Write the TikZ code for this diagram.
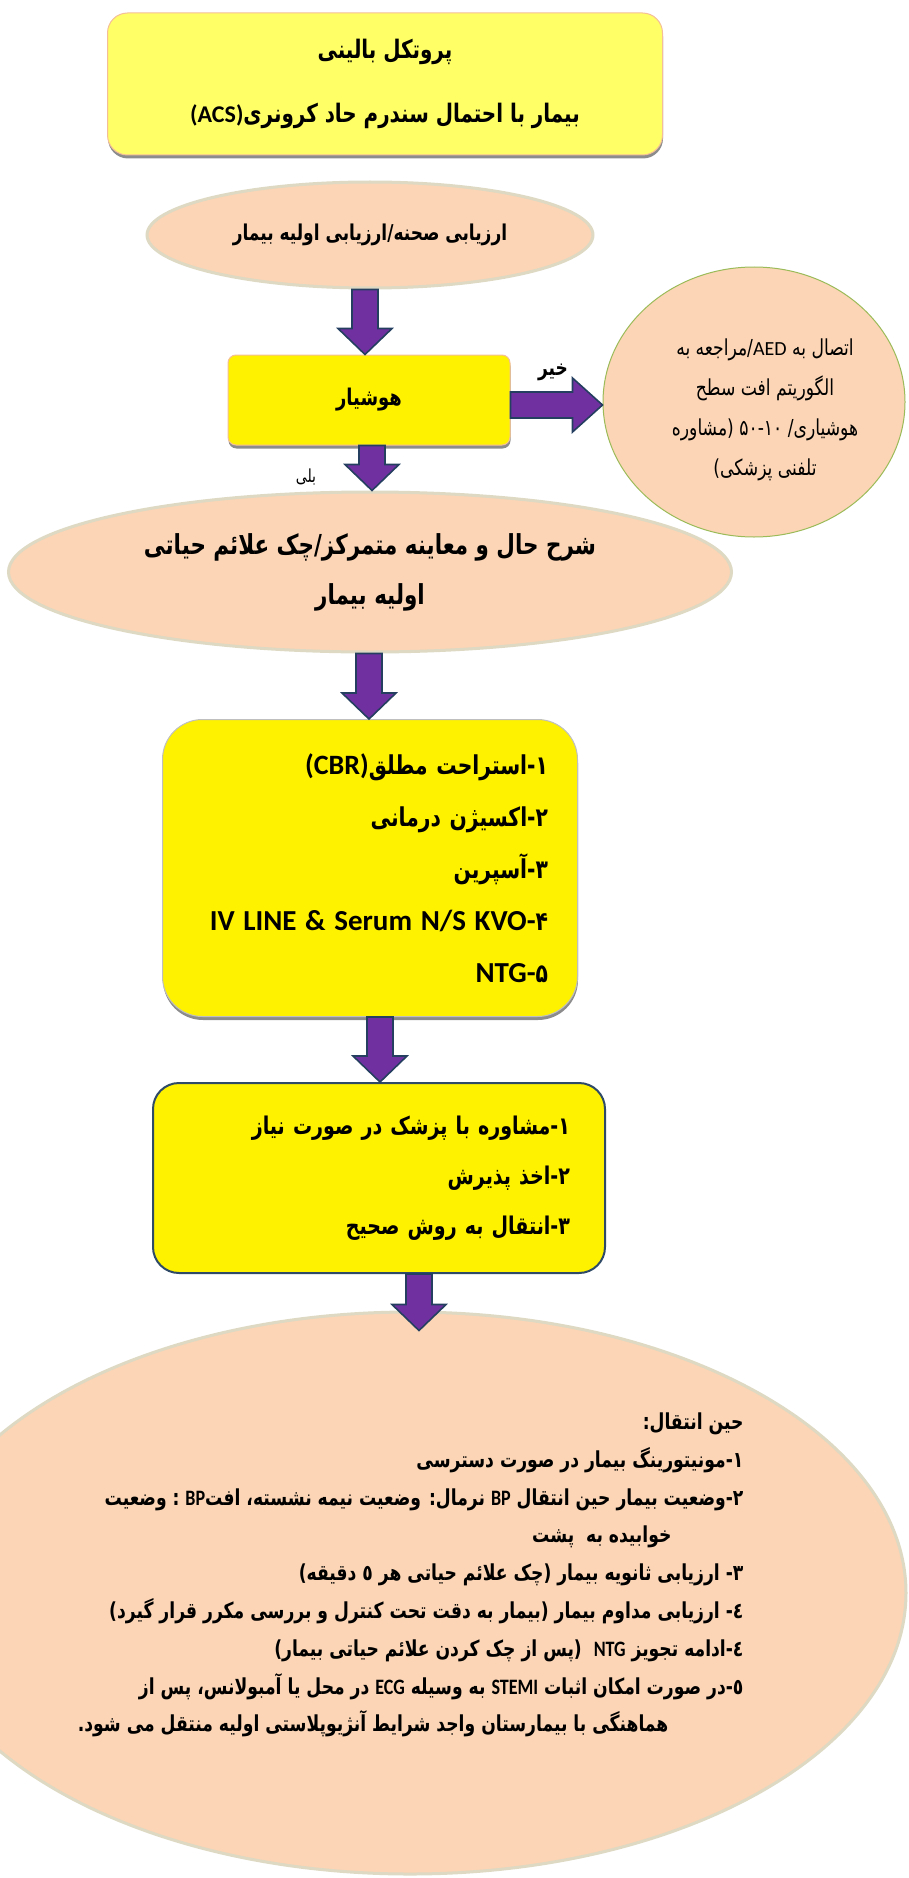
\documentclass[tikz,border=0pt]{standalone}
\usepackage{fontspec}
\usetikzlibrary{shadows,calc,shapes.geometric}
\TeXXeTstate=1
\newfontfamily\ar[Script=Arabic,FakeStretch=0.78]{DejaVu Sans}
\newfontfamily\lat{Carlito}
\newfontfamily\latn[FakeStretch=0.82]{Carlito}
\definecolor{peach}{HTML}{FBD5B5}
\definecolor{beige}{HTML}{DDD9C3}
\definecolor{titley}{HTML}{FFFF66}
\definecolor{pborder}{HTML}{F4BE98}
\definecolor{apurple}{HTML}{7030A0}
\definecolor{anavy}{HTML}{243F60}
\definecolor{aedgreen}{HTML}{9BBB59}
\definecolor{bthree}{HTML}{2E4A66}
\newcommand\vArrow[4]{\draw[barrow] let \p1=(#2), \p2=(#3) in
  (#1-13,\y1) -- (#1+13,\y1) -- (#1+13,\y2+#4+26) -- (#1+27,\y2+#4+26) -- (#1,\y2+#4)
  -- (#1-27,\y2+#4+26) -- (#1-13,\y2+#4+26) -- cycle;}
\newcommand\bl[1]{{\latn\fontsize{22}{38}\selectfont #1}}
\begin{document}
\begin{tikzpicture}[x=1pt,y=-1pt,
  oval/.style={ellipse, draw=beige, line width=3pt, fill=peach, inner sep=0pt},
  shad/.style={drop shadow={shadow xshift=0.5pt, shadow yshift=-3.5pt, fill=black!60, opacity=0.75}},
  barrow/.style={fill=apurple, draw=anavy, line width=1.6pt, line join=miter},
  ybox/.style={rectangle, fill=yellow, inner sep=0pt}]
\useasboundingbox (0,0) rectangle (908,1878);
\clip (0,0) rectangle (908,1878);

% title
\node[ybox, fill=titley, draw=pborder, line width=1pt, rounded corners=20pt, shad,
  minimum width=555pt, minimum height=142pt, align=center,
  font={\ar\bfseries\fontsize{25.5}{64}\selectfont}] (title) at (385,84)
  {\beginR پروتکل بالینی\endR\\ \beginR بیمار با احتمال سندرم حاد کرونری{\lat\fontsize{24}{64}\selectfont (ACS)}\endR};

% scene assessment
\node[oval, minimum width=446pt, minimum height=106pt,
  font={\ar\bfseries\fontsize{21.8}{24}\selectfont}] (scene) at (370,235)
  {\beginR ارزیابی صحنه/ارزیابی اولیه بیمار\endR};

% alert
\node[ybox, draw=pborder, line width=1pt, rounded corners=8pt, shad,
  minimum width=282pt, minimum height=90pt,
  font={\ar\bfseries\fontsize{23}{24}\selectfont}] (alert) at (369,400)
  {\beginR هوشیار\endR};

% AED
\node[ellipse, draw=aedgreen, line width=1pt, fill=peach, inner sep=0pt,
  minimum width=302pt, minimum height=270pt] (aed) at (754,402) {};
\node[align=center, font={\ar\fontsize{22}{40}\selectfont}] (aedt) at (765,410)
  {\beginR اتصال به {\lat\fontsize{20}{40}\selectfont AED}/مراجعه به\endR\\
   \beginR الگوریتم افت سطح\endR\\
   \beginR هوشیاری/ ۵۰-۱۰ (مشاوره\endR\\
   \beginR تلفنی پزشکی)\endR};

% history
\node[oval, minimum width=723pt, minimum height=160pt, align=center,
  font={\ar\bfseries\fontsize{27.5}{50}\selectfont}] (hist) at (370,572)
  {\beginR شرح حال و معاینه متمرکز/چک علائم حیاتی\endR\\ \beginR اولیه بیمار\endR};

% care box
\node[ybox, draw=black!25, line width=1pt, rounded corners=40pt, shad,
  minimum width=415pt, minimum height=297pt, text width=356pt, align=right,
  font={\ar\bfseries\fontsize{26}{52}\selectfont}] (care) at (370,868)
  {\beginR ۱-استراحت مطلق{\lat\fontsize{28}{52}\selectfont (CBR)}\endR\\
   \beginR ۲-اکسیژن درمانی\endR\\
   \beginR ۳-آسپرین\endR\\
   {\lat\fontsize{29}{52}\selectfont IV LINE \& Serum N/S KVO-}۴\\
   {\lat\fontsize{29}{52}\selectfont NTG-}۵};

% transfer box
\node[ybox, draw=bthree, line width=2pt, rounded corners=26pt,
  minimum width=452pt, minimum height=190pt, text width=382pt, align=right,
  font={\ar\bfseries\fontsize{24.4}{50}\selectfont}] (transfer) at (379,1178)
  {\beginR ۱-مشاوره با پزشک در صورت نیاز\endR\\
   \beginR ۲-اخذ پذیرش\endR\\
   \beginR ۳-انتقال به روش صحیح\endR};

% during transfer
\node[oval, minimum width=992pt, minimum height=562pt] (during) at (410,1593) {};
\node[anchor=east, align=right, font={\ar\bfseries\fontsize{22}{37.8}\selectfont}] (duringt) at (747,1575)
  {\beginR حین انتقال:\endR\\
   \beginR ۱-مونیتورینگ بیمار در صورت دسترسی\endR\\
   \beginR ۲-وضعیت بیمار حین انتقال \bl{BP} نرمال: وضعیت نیمه نشسته، افت\bl{BP} : وضعیت\endR\\
   \beginR خوابیده به\ \ پشت\endR\hbox to 72pt{}\\
   \beginR ۳- ارزیابی ثانویه بیمار (چک علائم حیاتی هر ٥ دقیقه)\endR\\
   \beginR ٤- ارزیابی مداوم بیمار (بیمار به دقت تحت کنترل و بررسی مکرر قرار گیرد)\endR\\
   \beginR ٤-ادامه تجویز \bl{NTG}\ \ (پس از چک کردن علائم حیاتی بیمار)\endR\\
   \beginR ٥-در صورت امکان اثبات \bl{STEMI} به وسیله \bl{ECG} در محل یا آمبولانس، پس از\endR\\
   \beginR هماهنگی با بیمارستان واجد شرایط آنژیوپلاستی اولیه منتقل می شود.\endR\hbox to 75pt{}};

% labels
\node[font={\ar\bfseries\fontsize{21.8}{24}\selectfont}] (nolabel) at (553,372) {\beginR خیر\endR};
\node[font={\ar\fontsize{18}{20}\selectfont}] (yeslabel) at (306,477) {\beginR بلی\endR};

% arrows
\vArrow{365}{scene.south}{alert.north}{0}
\vArrow{372}{alert.south}{hist.north}{0}
\vArrow{369}{hist.south}{care.north}{0}
\vArrow{380}{care.south}{transfer.north}{0}
\vArrow{419}{transfer.south}{during.north}{-20}
\draw[barrow] let \p1=(alert.east), \p2=(aed.west) in
  (\x1,392) -- (\x2-30,392) -- (\x2-30,378) -- (\x2,405) -- (\x2-30,432) -- (\x2-30,418) -- (\x1,418) -- cycle;
\end{tikzpicture}
\end{document}
